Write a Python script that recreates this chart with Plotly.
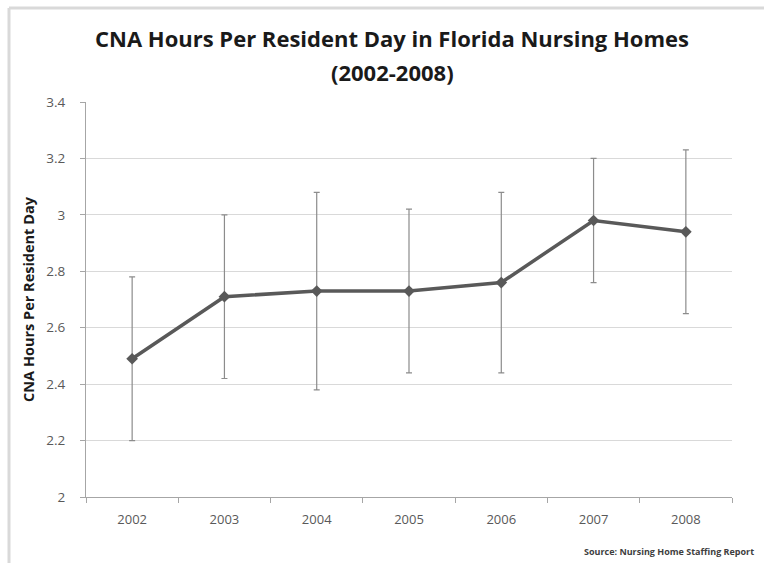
import plotly.graph_objects as go

years = ["2002", "2003", "2004", "2005", "2006", "2007", "2008"]
hours = [2.49, 2.71, 2.73, 2.73, 2.76, 2.98, 2.94]
err = [0.29, 0.29, 0.35, 0.29, 0.32, 0.22, 0.29]

title_line1 = "CNA Hours Per Resident Day in Florida Nursing Homes"
title_line2 = "(2002-2008)"
y_title = "CNA Hours Per Resident Day"
source_text = "Source: Nursing Home Staffing Report"
y_ticks = [2, 2.2, 2.4, 2.6, 2.8, 3, 3.2, 3.4]

fig = go.Figure()
fig.add_trace(go.Scatter(
    x=years, y=hours, mode="lines+markers",
    line=dict(color="#595959", width=3.5),
    marker=dict(symbol="diamond", size=9, color="#595959"),
    error_y=dict(type="data", array=err, visible=True, color="#8c8c8c",
                 thickness=1.2, width=3),
    showlegend=False, hoverinfo="x+y",
))

W, H = 764, 563
ml, mr, mt, mb = 86, 32, 102, 66
pw, ph = W - ml - mr, H - mt - mb

def px_x(x):
    return (x - ml) / pw

def px_y(y):
    return (H - mb - y) / ph

fig.update_layout(
    width=W, height=H,
    margin=dict(l=ml, r=mr, t=mt, b=mb, pad=0),
    paper_bgcolor="white", plot_bgcolor="white",
    font=dict(family="Open Sans", color="#595959"),
    xaxis=dict(type="category", range=[-0.5, len(years) - 0.5], showgrid=False,
               showline=True, linecolor="#a6a6a6",
               linewidth=1, ticks="outside", tickson="boundaries", ticklen=5,
               tickcolor="#a6a6a6", tickfont=dict(size=13, color="#595959"),
               ticklabelstandoff=10, fixedrange=True),
    yaxis=dict(range=[2, 3.4], tickvals=y_ticks, showgrid=True, gridcolor="#d9d9d9",
               gridwidth=1, showline=True, linecolor="#a6a6a6", linewidth=1,
               ticks="outside", ticklen=5, tickcolor="#a6a6a6", zeroline=False,
               tickfont=dict(size=13.5, color="#595959"), ticklabelstandoff=12,
               title=dict(text="<b>" + y_title + "</b>", standoff=8,
                          font=dict(size=14.5, color="#1a1a1a", family="Open Sans")),
               fixedrange=True),
    shapes=[
        dict(type="line", xref="paper", yref="paper", x0=px_x(9), x1=px_x(800),
             y0=px_y(8), y1=px_y(8), line=dict(color="#d9d9d9", width=3)),
        dict(type="line", xref="paper", yref="paper", x0=px_x(9), x1=px_x(9),
             y0=px_y(8), y1=px_y(600), line=dict(color="#d9d9d9", width=3)),
    ],
    annotations=[
        dict(text="<b>" + title_line1 + "</b>", xref="paper", yref="paper",
             x=px_x(392), y=px_y(38), xanchor="center", yanchor="middle",
             showarrow=False, font=dict(size=22, color="#1a1a1a", family="Open Sans")),
        dict(text="<b>" + title_line2 + "</b>", xref="paper", yref="paper",
             x=px_x(392), y=px_y(72), xanchor="center", yanchor="middle",
             showarrow=False, font=dict(size=22, color="#1a1a1a", family="Open Sans")),
        dict(text="<b>" + source_text + "</b>", xref="paper", yref="paper",
             x=px_x(756), y=px_y(551), xanchor="right", yanchor="middle",
             showarrow=False, font=dict(size=9, color="#404040", family="Open Sans")),
    ],
)

fig.write_html("out.html", config={"displayModeBar": False},
               post_script="document.body.style.margin='0px';")
